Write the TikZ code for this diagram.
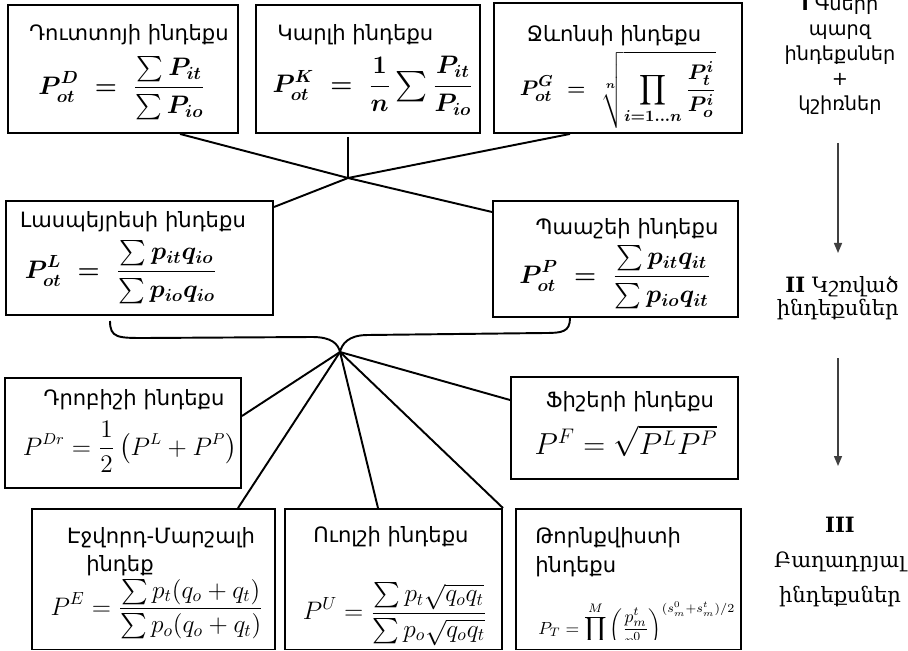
\documentclass[tikz,border=0pt]{standalone}
\usepackage{amsmath}
\usepackage[no-math]{fontspec}
\newfontfamily\armsans{DejaVu Sans}
\newfontfamily\armserif{DejaVu Serif}
\usetikzlibrary{arrows.meta,positioning,fit}
\definecolor{arrgray}{RGB}{64,64,64}
\tikzset{
  box/.style={draw=black, line width=1.1pt, inner sep=0pt},
  ttl/.style={inner sep=0pt, font=\armsans\fontsize{12}{16.4}\selectfont},
  frm/.style={inner sep=0pt, font=\fontsize{14}{16}\selectfont},
  bfrm/.style={inner sep=0pt, font=\fontsize{14}{16}\selectfont\boldmath},
  link/.style={line width=1.1pt, draw=black},
  lvl/.style={inner sep=0pt, font=\armsans\fontsize{11}{14.2}\selectfont},
  lvlserif/.style={inner sep=0pt, font=\armserif\fontsize{12}{11.4}\selectfont},
  lvlarrow/.style={-{Triangle[length=2mm, width=1.6mm]}, line width=0.8pt, draw=arrgray},
}

\begin{document}
\begin{tikzpicture}[x=0.02cm, y=-0.02cm]
    \useasboundingbox (0,0) rectangle (908,651);
    % simple indices
    \node[box, fit={(8,5) (238,133)}] (dutot) {};
    \node[box, fit={(256,5) (480,133)}] (carli) {};
    \node[box, fit={(494,3) (742,133)}] (jevons) {};
    \node[ttl] (dutot-t) at (129,35) {Դուտտոյի ինդեքս};
    \node[bfrm] (dutot-f) at (122,88) {$\displaystyle P^{D}_{ot}\;=\;\frac{\sum P_{it}}{\sum P_{io}}$};
    \node[ttl, anchor=west] (carli-t) at (277,35) {Կարլի ինդեքս};
    \node[bfrm] (carli-f) at (373,86) {$\displaystyle P^{K}_{ot}\;=\;\frac{1}{n}\mathop{\vcenter{\hbox{\fontsize{19}{19}\selectfont$\sum$}}}\frac{P_{it}}{P_{io}}$};
    \node[ttl] (jevons-t) at (614,36) {Ջևոնսի ինդեքս};
    \node[bfrm, font=\fontsize{12.5}{15}\selectfont\boldmath] (jevons-f) at (618,90) {$\displaystyle P^{G}_{ot}\;=\;\sqrt[n]{\prod_{i=1\ldots n}\frac{P^{i}_{t}}{P^{i}_{o}}}$};

    % weighted indices
    \node[box, fit={(6,201) (273,315)}] (laspeyres) {};
    \node[box, fit={(493,201) (738,317)}] (paasche) {};
    \node[ttl] (laspeyres-t) at (133,222) {Լասպեյրեսի ինդեքս};
    \node[bfrm] (laspeyres-f) at (121,272) {$\displaystyle P^{L}_{ot}\;=\;\frac{\sum p_{it}q_{io}}{\sum p_{io}q_{io}}$};
    \node[ttl] (paasche-t) at (627,229) {Պաաշեի ինդեքս};
    \node[bfrm] (paasche-f) at (615,277) {$\displaystyle P^{P}_{ot}\;=\;\frac{\sum p_{it}q_{it}}{\sum p_{io}q_{it}}$};

    % composite indices
    \node[box, fit={(5,378) (241,488)}] (drobisch) {};
    \node[box, fit={(511,377) (738,479)}] (fisher) {};
    \node[ttl] (drobisch-t) at (134,400) {Դրոբիշի ինդեքս};
    \node[frm, font=\fontsize{13.5}{15}\selectfont] (drobisch-f) at (130,447) {$\displaystyle P^{Dr} = \frac{1}{2}\left(P^{L}+P^{P}\right)$};
    \node[ttl] (fisher-t) at (630,402) {Ֆիշերի ինդեքս};
    \node[frm, font=\fontsize{18}{22}\selectfont] (fisher-f) at (626,441) {$P^{F} = \sqrt{P^{L}P^{P}}$};

    \node[box, fit={(32,509) (275,649.5)}] (edgeworth) {};
    \node[box, fit={(285,509) (502,649.5)}] (walsh) {};
    \node[box, fit={(516,509) (741,649.5)}] (tornqvist) {};
    \node[ttl] (edgeworth-t) at (161,538) {Էջվորդ-Մարշալի};
    \node[ttl] (edgeworth-t2) at (120,566) {ինդեք};
    \node[frm] (edgeworth-f) at (157,609) {$\displaystyle P^{E} = \frac{\sum p_{t}(q_{o}+q_{t})}{\sum p_{o}(q_{o}+q_{t})}$};
    \node[ttl] (walsh-t) at (391,537) {Ուոլշի ինդեքս};
    \node[frm] (walsh-f) at (395,614) {$\displaystyle P^{U} = \frac{\sum p_{t}\sqrt{q_{o}q_{t}}}{\sum p_{o}\sqrt{q_{o}q_{t}}}$};
    \node[ttl, align=left, anchor=west] (tornqvist-t) at (535,552) {Թորնքվիստի\\ինդեքս};
    \begin{scope}
      \clip (tornqvist.north west) rectangle (741,639);
      \node[frm, font=\fontsize{10.2}{12}\selectfont, anchor=base west] (tornqvist-f) at (538,634) {$\displaystyle P_{T} = \prod^{M}\left(\frac{p^{t}_{m}}{p^{0}_{m}}\right)^{(s^{0}_{m}+s^{t}_{m})/2}$};
    \end{scope}

    % connectors
    \coordinate (hub1) at (348,178);
    \coordinate (hub2) at (340,352);
    \draw[link] (180,0 |- dutot.south) -- (hub1) -- (paasche.west |- 0,212);
    \draw[link] (348,137) -- (hub1);
    \draw[link] (570,0 |- jevons.south) -- (hub1) -- (laspeyres.east |- 0,207);
    \coordinate (lbrace) at (110,321);
    \coordinate (rbrace) at (570,318);
    \draw[link] (lbrace) .. controls (110,338) and (118,338) .. (145,338) -- (312,337) .. controls (332,337) and (338,344) .. (hub2);
    \draw[link] (rbrace) .. controls (570,332) and (562,333) .. (545,333) -- (368,335) .. controls (348,335) and (342,344) .. (hub2);
    \draw[link] (hub2) -- (drobisch.east |- 0,416);
    \draw[link] (hub2) -- (fisher.west |- 0,400);
    \draw[link] (hub2) -- (238,0 |- edgeworth.north);
    \draw[link] (hub2) -- (378,0 |- walsh.north);
    \draw[link] (hub2) -- (walsh.north east);

    % levels on the right
    \node[lvl, align=center] (lev1) at (840,55) {\textbf{I} Գների\\պարզ\\ինդեքսներ\\+\\կշիռներ};
    \node[lvlserif, align=right, anchor=east] (lev2) at (899,298) {\textbf{II} Կշռված\\ինդեքսներ};
    \node[lvlserif, align=center, font=\armserif\fontsize{12}{19.9}\selectfont] (lev3) at (840,562) {\textbf{III}\\Բաղադրյալ\\ինդեքսներ};
    \coordinate (a1s) at (838,143);
    \coordinate (a1e) at (838,253);
    \coordinate (a2s) at (838,358);
    \coordinate (a2e) at (838,466);
    \draw[lvlarrow] (a1s) -- (a1e);
    \draw[lvlarrow] (a2s) -- (a2e);
  \end{tikzpicture}
\end{document}
